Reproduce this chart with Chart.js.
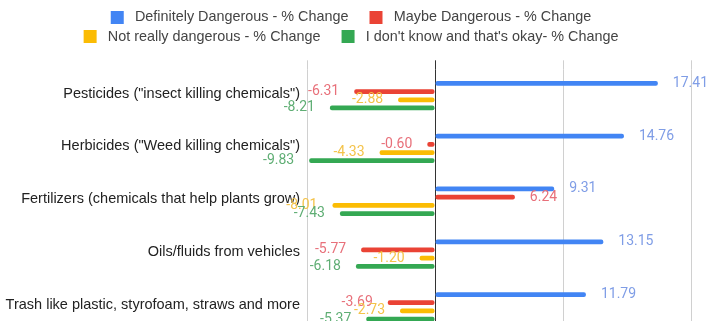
<!DOCTYPE html>
<html>
<head>
<meta charset="utf-8">
<script src="https://cdn.jsdelivr.net/npm/chart.js@4"></script>
<style>
html, body { margin: 0; padding: 0; background: #fff; overflow: hidden; }
#wrap { width: 707px; height: 362px; position: relative; }
</style>
</head>
<body>
<div id="wrap"><canvas id="changeChart"></canvas></div>
<script>
// categories and % change per answer group
const categories = [
  'Pesticides ("insect killing chemicals")',
  'Herbicides ("Weed killing chemicals")',
  'Fertilizers (chemicals that help plants grow)',
  'Oils/fluids from vehicles',
  'Trash like plastic, styrofoam, straws and more'
];
const definitelyDangerous = [17.41, 14.76, 9.31, 13.15, 11.79];
const maybeDangerous = [-6.31, -0.60, 6.24, -5.77, -3.69];
const notReallyDangerous = [-2.88, -4.33, -8.01, -1.20, -2.73];
const dontKnow = [-8.21, -9.83, -7.43, -6.18, -5.37];
const xTicks = [-10, 0, 10, 20];

const seriesNames = [
  'Definitely Dangerous - % Change',
  'Maybe Dangerous - % Change',
  'Not really dangerous - % Change',
  "I don't know and that's okay- % Change"
];
const barColors = ['#4285f4', '#ea4335', '#fbbc04', '#34a853'];
const labelColors = ['#7f9de6', '#e8707a', '#f4c34a', '#5fae74'];

const FONT = '"Liberation Sans", Arial, sans-serif';

// legend swatch: square with blank space on its left, so items sit further apart
const SWATCH_W = 33, SWATCH_LEAD = 16, SWATCH = 13;
function swatch(color) {
  const c = document.createElement('canvas');
  c.width = SWATCH_W;
  c.height = SWATCH;
  const g = c.getContext('2d');
  g.fillStyle = color;
  g.fillRect(SWATCH_LEAD, 0, SWATCH, SWATCH);
  return c;
}
const swatches = barColors.map(swatch);

// extra room between legend and plot, legend nudged a bit left
const legendTweak = {
  id: 'legendTweak',
  beforeInit(chart) {
    const legend = chart.legend;
    const fit = legend.fit;
    legend.fit = function () {
      fit.call(this);
      this.height += 15.5;
    };
    const draw = legend.draw;
    legend.draw = function () {
      const ctx = this.ctx;
      ctx.save();
      ctx.translate(-2.5, 0);
      draw.call(this);
      ctx.restore();
    };
  }
};

// value labels at the end of each bar
const valueLabels = {
  id: 'valueLabels',
  afterDatasetsDraw(chart) {
    const ctx = chart.ctx;
    ctx.save();
    ctx.font = '14px Roboto, "Liberation Sans", sans-serif';
    ctx.textBaseline = 'middle';
    chart.data.datasets.forEach((ds, i) => {
      const meta = chart.getDatasetMeta(i);
      if (meta.hidden) return;
      meta.data.forEach((bar, j) => {
        const v = ds.data[j];
        ctx.fillStyle = labelColors[i];
        if (v >= 0) {
          ctx.textAlign = 'left';
          ctx.fillText(v.toFixed(2), bar.x + 15, bar.y);
        } else {
          ctx.textAlign = 'right';
          ctx.fillText(v.toFixed(2), bar.x - 15, bar.y);
        }
      });
    });
    ctx.restore();
  }
};

// grid lines reach a little above the plot area
const gridCap = {
  id: 'gridCap',
  beforeDatasetsDraw(chart) {
    const { ctx, chartArea, scales } = chart;
    ctx.save();
    ctx.lineWidth = 1;
    xTicks.forEach(v => {
      const x = Math.round(scales.x.getPixelForValue(v)) + 0.5;
      ctx.strokeStyle = v === 0 ? '#333' : '#d0d0d0';
      ctx.beginPath();
      ctx.moveTo(x, chartArea.top - 9);
      ctx.lineTo(x, chartArea.top);
      ctx.stroke();
    });
    ctx.restore();
  }
};

const seriesData = [definitelyDangerous, maybeDangerous, notReallyDangerous, dontKnow];

new Chart(document.getElementById('changeChart'), {
  type: 'bar',
  data: {
    labels: categories,
    datasets: seriesData.map((d, i) => ({
      label: seriesNames[i],
      data: d,
      backgroundColor: barColors[i],
      borderRadius: 2,
      borderSkipped: false,
      categoryPercentage: 0.62,
      barPercentage: 0.58
    }))
  },
  options: {
    indexAxis: 'y',
    responsive: true,
    maintainAspectRatio: false,
    animation: false,
    layout: { padding: { left: 0, right: 16, top: 5, bottom: 0 } },
    plugins: {
      tooltip: { enabled: false },
      legend: {
        position: 'top',
        labels: {
          usePointStyle: true,
          pointStyleWidth: SWATCH_W,
          boxHeight: SWATCH,
          padding: 5,
          color: '#444',
          font: { family: FONT, size: 14.4 },
          generateLabels(chart) {
            const items = Chart.defaults.plugins.legend.labels.generateLabels(chart);
            items.forEach((it, i) => { it.pointStyle = swatches[i]; });
            return items;
          }
        }
      }
    },
    scales: {
      x: {
        min: -10,
        max: 20,
        afterFit(scale) { scale.paddingRight = 0; },
        afterBuildTicks(scale) {
          scale.ticks = xTicks.map(v => ({ value: v }));
        },
        grid: {
          color: c => (c.tick && c.tick.value === 0 ? '#333' : '#d0d0d0'),
          lineWidth: 1,
          drawTicks: false
        },
        border: { display: false },
        ticks: {
          color: '#444',
          padding: 6,
          font: { family: FONT, size: 14 }
        }
      },
      y: {
        z: 1,
        afterFit(scale) { scale.width = 307; },
        grid: { display: false, drawTicks: false },
        border: { display: false },
        ticks: {
          color: '#222',
          padding: 7,
          labelOffset: -2,
          font: { family: FONT, size: 14.5 }
        }
      }
    }
  },
  plugins: [legendTweak, gridCap, valueLabels]
});
</script>
</body>
</html>
